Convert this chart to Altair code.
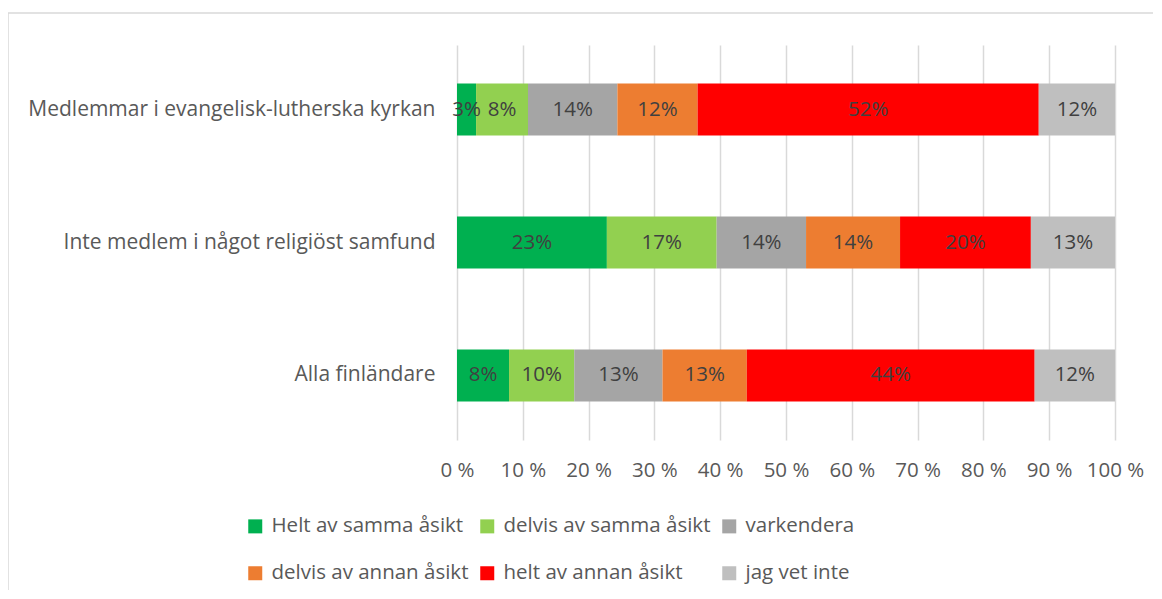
import altair as alt
import pandas as pd

groups = ["Medlemmar i evangelisk-lutherska kyrkan",
          "Inte medlem i något religiöst samfund",
          "Alla finländare"]
categories = ["Helt av samma åsikt", "delvis av samma åsikt", "varkendera",
              "delvis av annan åsikt", "helt av annan åsikt", "jag vet inte"]
colors = ["#00B050", "#92D050", "#A5A5A5", "#ED7D31", "#FF0000", "#BFBFBF"]

vals_members = [2.9, 7.9, 13.6, 12.2, 51.9, 11.6]
vals_nonmembers = [22.8, 16.7, 13.6, 14.3, 19.9, 12.8]
vals_all = [7.9, 9.9, 13.4, 12.8, 43.7, 12.2]

rows = []
for g, vals in zip(groups, [vals_members, vals_nonmembers, vals_all]):
    for i, (c, v) in enumerate(zip(categories, vals)):
        rows.append({"group": g, "cat": c, "order": i, "value": v,
                     "label": f"{round(v)}%"})
df = pd.DataFrame(rows)

FONT = "Open Sans"
FS = 20.5

base = alt.Chart(df).transform_stack(
    stack="value", groupby=["group"], as_=["v0", "v1"],
    offset="normalize", sort=[alt.SortField("order", order="ascending")]
).transform_calculate(mid="(datum.v0 + datum.v1) / 2")

yenc = alt.Y("group:N", sort=groups, title=None,
             scale=alt.Scale(paddingInner=0.61, paddingOuter=0.29),
             axis=alt.Axis(labelFont=FONT, labelFontSize=21, labelColor="#595959",
                           labelPadding=22, ticks=False, domain=False, labelLimit=600))

bars = base.mark_bar().encode(
    x=alt.X("v0:Q", scale=alt.Scale(domain=[0, 1]), title=None,
            axis=alt.Axis(values=[i / 10 for i in range(11)],
                          labelExpr="round(datum.value*100) + ' %'",
                          labelFont=FONT, labelFontSize=FS, labelColor="#595959",
                          labelPadding=20, labelOverlap=False, labelFlush=False,
                          grid=True, gridColor="#D9D9D9", gridWidth=1.5,
                          ticks=False, domain=False)),
    x2="v1:Q",
    y=yenc,
    color=alt.Color("cat:N", sort=categories,
                    scale=alt.Scale(domain=categories, range=colors),
                    legend=alt.Legend(title=None, orient="none", legendX=-212, legendY=471,
                                      columns=3, direction="horizontal",
                                      symbolType="square", symbolSize=196,
                                      symbolStrokeWidth=0, labelFont=FONT,
                                      labelFontSize=FS, labelColor="#595959",
                                      labelOffset=6, columnPadding=8, rowPadding=26,
                                      labelLimit=400)),
    order=alt.Order("order:Q"),
)

texts = base.mark_text(font=FONT, fontSize=FS, color="#404040").encode(
    x=alt.X("mid:Q"),
    y=alt.Y("group:N", sort=groups),
    text="label:N",
)

frame = alt.Chart(pd.DataFrame({"a": [0]})).mark_rect(
    fill=None, stroke="#D9D9D9", strokeWidth=1.5
).encode(x=alt.value(-449), x2=alt.value(720), y=alt.value(-32), y2=alt.value(600))

chart = alt.layer(frame, bars, texts).properties(
    width=658, height=395,
    padding={"left": 449, "top": 37, "right": 38, "bottom": 150},
    autosize=alt.AutoSizeParams(type="none"),
).configure_view(stroke=None)

chart.save("out.html", embed_options={"renderer": "svg", "actions": False})
